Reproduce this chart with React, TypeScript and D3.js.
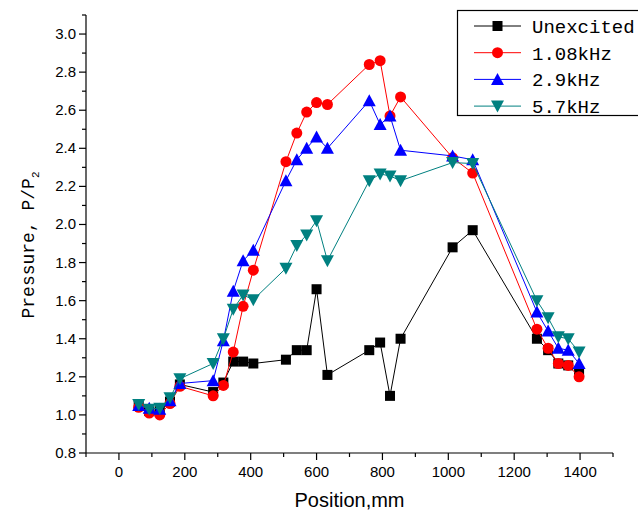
import React from 'react';
import * as d3 from 'd3';

const positions = [60, 92, 124, 155, 185, 286, 317, 347, 377, 408, 507, 540, 570, 600, 633, 760, 793, 823, 855, 1013, 1074, 1269, 1303, 1334, 1364, 1397];
const unexcited = [1.05, 1.02, 1.02, 1.07, 1.16, 1.12, 1.17, 1.28, 1.28, 1.27, 1.29, 1.34, 1.34, 1.66, 1.21, 1.34, 1.38, 1.10, 1.40, 1.88, 1.97, 1.40, 1.34, 1.27, 1.26, 1.23];
const f108 = [1.04, 1.01, 1.00, 1.06, 1.15, 1.10, 1.155, 1.33, 1.57, 1.76, 2.33, 2.48, 2.59, 2.64, 2.63, 2.84, 2.86, 2.57, 2.67, 2.35, 2.27, 1.45, 1.35, 1.27, 1.26, 1.20];
const f29 = [1.05, 1.035, 1.03, 1.075, 1.165, 1.18, 1.39, 1.65, 1.81, 1.865, 2.23, 2.34, 2.40, 2.46, 2.40, 2.65, 2.525, 2.57, 2.39, 2.36, 2.34, 1.54, 1.44, 1.35, 1.34, 1.27];
const f57 = [1.055, 1.03, 1.035, 1.09, 1.19, 1.27, 1.40, 1.555, 1.63, 1.605, 1.77, 1.89, 1.945, 2.02, 1.81, 2.23, 2.265, 2.255, 2.23, 2.325, 2.32, 1.60, 1.51, 1.41, 1.40, 1.33];

const seriesNames = ['Unexcited', '1.08kHz', '2.9kHz', '5.7kHz'];
const seriesColors = ['#000000', '#ff0000', '#0000ff', '#008080'];
const seriesShapes = ['square', 'circle', 'up', 'down'];
const seriesValues = [unexcited, f108, f29, f57];

const xMajor = [0, 200, 400, 600, 800, 1000, 1200, 1400];
const yMajor = [0.8, 1.0, 1.2, 1.4, 1.6, 1.8, 2.0, 2.2, 2.4, 2.6, 2.8, 3.0];

const W = 638, H = 517;
const x = d3.scaleLinear().domain([-100, 1500]).range([86, 613]);
const y = d3.scaleLinear().domain([0.8, 3.1]).range([453, 15]);

function Marker({ shape, cx, cy, color }: { shape: string; cx: number; cy: number; color: string }) {
  if (shape === 'square') return <rect x={cx - 5} y={cy - 5} width={10} height={10} fill={color} />;
  if (shape === 'circle') return <circle cx={cx} cy={cy} r={5.5} fill={color} />;
  if (shape === 'up') {
    const p = `${cx - 6.5},${cy + 5.5} ${cx + 6.5},${cy + 5.5} ${cx},${cy - 6.5}`;
    return <polygon points={p} fill={color} />;
  }
  const p = `${cx - 6.5},${cy - 5.5} ${cx + 6.5},${cy - 5.5} ${cx},${cy + 6.5}`;
  return <polygon points={p} fill={color} />;
}

export default function App() {
  const line = d3.line<[number, number]>().x(d => x(d[0])).y(d => y(d[1]));
  const xMinor = d3.range(-100, 1501, 100);
  const yMinor = d3.range(8, 32).map(v => v / 10);
  const serif = '"Liberation Mono", "DejaVu Sans Mono", monospace';
  const sans = '"Liberation Sans", Arial, sans-serif';
  return (
    <svg width={W} height={H} style={{ position: 'absolute', left: 0, top: 0, background: '#fff' }}>
      <rect width={W} height={H} fill="#fff" />
      {/* axes */}
      <line x1={x(-100)} x2={x(1500)} y1={y(0.8)} y2={y(0.8)} stroke="#000" strokeWidth={1.2} />
      <line x1={x(-100)} x2={x(-100)} y1={y(0.8)} y2={y(3.1)} stroke="#000" strokeWidth={1.2} />
      {xMinor.map(v => (
        <line key={'xm' + v} x1={x(v)} x2={x(v)} y1={y(0.8)} y2={y(0.8) + (xMajor.includes(v) ? 7 : 4)} stroke="#000" strokeWidth={1.2} />
      ))}
      {yMinor.map(v => (
        <line key={'ym' + v} x1={x(-100)} x2={x(-100) - (Math.round(v * 10) % 2 === 0 ? 7 : 4)} y1={y(v)} y2={y(v)} stroke="#000" strokeWidth={1.2} />
      ))}
      {xMajor.map(v => (
        <text key={'xl' + v} x={x(v)} y={y(0.8) + 24} textAnchor="middle" fontFamily={sans} fontSize={15}>{v}</text>
      ))}
      {yMajor.map(v => (
        <text key={'yl' + v} x={x(-100) - 10} y={y(v) + 5} textAnchor="end" fontFamily={sans} fontSize={15}>{v.toFixed(1)}</text>
      ))}
      <text x={(x(-100) + x(1500)) / 2} y={507} textAnchor="middle" fontFamily={sans} fontSize={20}>Position,mm</text>
      <text transform={`translate(34, 245) rotate(-90)`} textAnchor="middle" fontFamily={serif} fontSize={18}>
        Pressure, P/P<tspan fontSize={11} dy={5}>2</tspan>
      </text>
      {/* series */}
      {seriesValues.map((vals, si) => {
        const pts = positions.map((p, i) => [p, vals[i]] as [number, number]);
        return (
          <g key={'s' + si}>
            <path d={line(pts) || ''} fill="none" stroke={seriesColors[si]} strokeWidth={1} />
            {pts.map((d, i) => (
              <Marker key={i} shape={seriesShapes[si]} cx={x(d[0])} cy={y(d[1])} color={seriesColors[si]} />
            ))}
          </g>
        );
      })}
      {/* legend */}
      <rect x={457.5} y={10.5} width={185} height={105} fill="#fff" stroke="#000" strokeWidth={1.2} />
      {seriesNames.map((n, i) => {
        const cy = 26 + i * 26.7;
        return (
          <g key={'lg' + i}>
            <line x1={474} x2={521} y1={cy} y2={cy} stroke={seriesColors[i]} strokeWidth={1} />
            <Marker shape={seriesShapes[i]} cx={497.5} cy={cy} color={seriesColors[i]} />
            <text x={532} y={cy + 7} fontFamily={serif} fontSize={19}>{n}</text>
          </g>
        );
      })}
    </svg>
  );
}
